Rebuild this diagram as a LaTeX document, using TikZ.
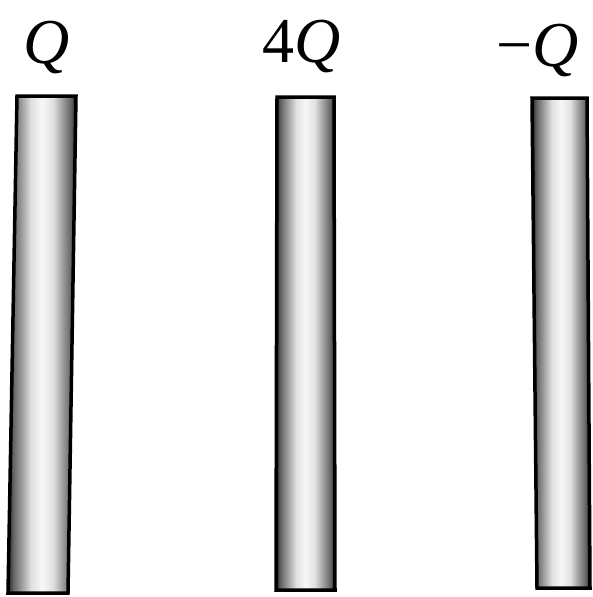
\documentclass[tikz,border=0pt]{standalone}
\usepackage{fontspec}
\setmainfont{Liberation Serif}
\newfontfamily\chfont{Liberation Serif Italic}
\newfontfamily\rmch{Liberation Serif}
\pgfdeclarehorizontalshading{plateshade}{100bp}{color(0bp)=(black!85); color(25bp)=(black!85); color(29bp)=(black!60); color(35bp)=(black!38); color(42bp)=(black!12); color(50bp)=(black!3); color(58bp)=(black!12); color(65bp)=(black!38); color(71bp)=(black!60); color(75bp)=(black!85); color(100bp)=(black!85)}
\tikzset{
  plate/.style={draw=black, line width=3.5pt, line join=miter, shading=plateshade},
  charge/.style={anchor=base, inner sep=0pt, font=\fontsize{64}{70}\selectfont}
}
\begin{document}
\begin{tikzpicture}[x=1pt,y=-1pt]
\useasboundingbox (0,0) rectangle (592,597);
% plates
\path[plate] (17,96) -- (76,96) -- (68,593) -- (8,593) -- cycle;
\path[plate] (277,97) -- (334,97) -- (335,590) -- (276,590) -- cycle;
\path[plate] (532,98) -- (587,98) -- (590,588) -- (537,588) -- cycle;
% labels
\node[charge] (q1) at (47,63) {\chfont Q};
\node[charge] (q2) at (302,62) {{\rmch 4}{\chfont Q}};
\node[charge] (q3) at (538,66) {{\rmch −}{\chfont Q}};
\end{tikzpicture}
\end{document}
